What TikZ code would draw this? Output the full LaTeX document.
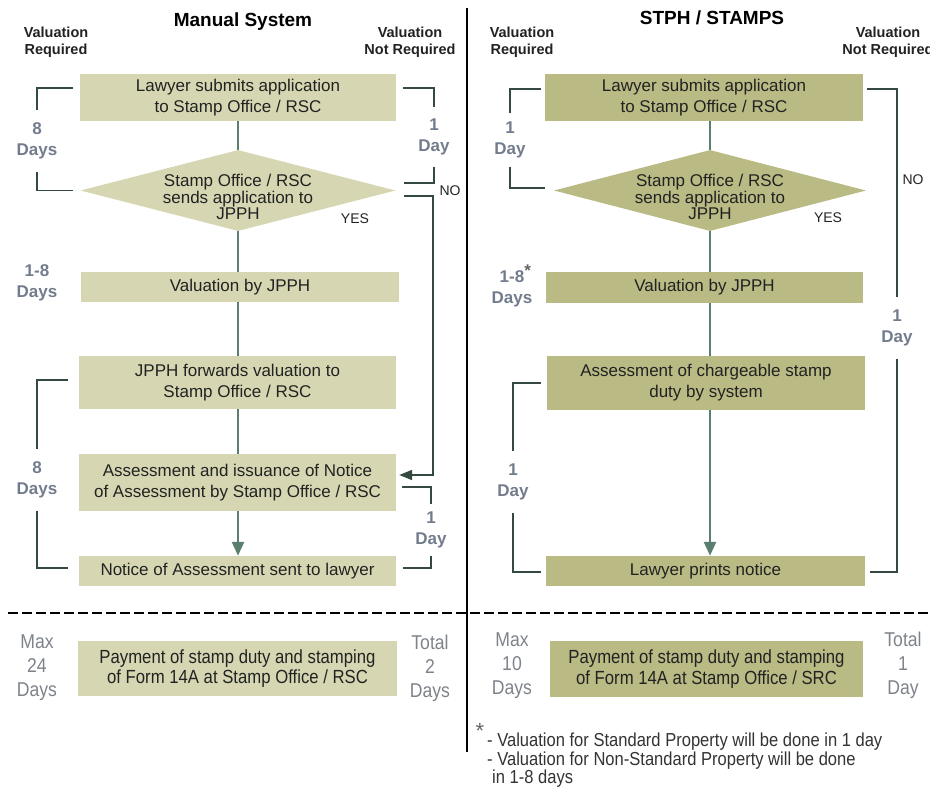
\documentclass[tikz,border=0pt]{standalone}
\usepackage{fontspec}
\setmainfont{Liberation Sans}
\newfontfamily\narrowfont[FakeStretch=0.88]{Liberation Sans}
\usepackage{xcolor}
\usetikzlibrary{positioning, arrows.meta, shapes.geometric}
\definecolor{manualfill}{HTML}{D6D7B2}
\definecolor{stampsfill}{HTML}{B9BA84}
\definecolor{boxtext}{HTML}{222222}
\definecolor{flowgreen}{HTML}{5B7F6E}
\definecolor{bracketdark}{HTML}{34493F}
\definecolor{daygray}{HTML}{727C8C}
\definecolor{totalgray}{HTML}{7E838A}
\definecolor{stargray}{HTML}{666666}
\definecolor{notetext}{HTML}{333333}

\begin{document}
\begin{tikzpicture}[x=1pt, y=-1pt,
    stepbox/.style={rectangle, fill=#1, inner sep=0pt, text=boxtext, align=center, font=\fontsize{17}{21}\selectfont},
    decide/.style={diamond, fill=#1, inner sep=0pt, minimum width=315pt, minimum height=81pt},
    decidetext/.style={align=center, text=boxtext, inner sep=0pt, font=\fontsize{17}{16.5}\selectfont},
    head/.style={font=\fontsize{19}{22}\selectfont\bfseries},
    colhead/.style={align=center, text=boxtext, font=\fontsize{14.5}{17}\selectfont\bfseries},
    days/.style={align=center, text=daygray, inner xsep=2pt, inner ysep=12pt, font=\fontsize{17}{21.5}\selectfont\bfseries},
    total/.style={align=center, text=totalgray, inner sep=0pt, font=\narrowfont\fontsize{20}{24}\selectfont},
    paytext/.style={font=\narrowfont\fontsize{19}{20.5}\selectfont},
    branch/.style={inner sep=0pt, text=boxtext, font=\fontsize{14}{16}\selectfont},
    flow/.style={draw=flowgreen, line width=2.5pt},
    flowarrow/.style={flow, -{Triangle[length=14pt,width=12pt]}},
    bracket/.style={draw=bracketdark, line width=1.8pt}
]
\useasboundingbox (0,0) rectangle (930,787);

\node[head] (manual) at (243,22) {Manual System};
\node[head] (stamps) at (712,18) {STPH / STAMPS};
\node[colhead] (reqL) at (56,42) {Valuation\\Required};
\node[colhead] (notreqL) at (410,42) {Valuation\\Not Required};
\node[colhead] (reqR) at (522,42) {Valuation\\Required};
\node[colhead] (notreqR) at (888,42) {Valuation\\Not Required};

\node[stepbox=manualfill, minimum width=316pt, minimum height=47pt] (submitL) at (238,97.5) {Lawyer submits application\\to Stamp Office / RSC};
\node[decide=manualfill] (sendL) at (238,190.5) {};
\node[decidetext] (sendLtext) at (238,197) {Stamp Office / RSC\\sends application to\\JPPH};
\node[stepbox=manualfill, minimum width=318pt, minimum height=30pt] (valueL) at (240,287) {Valuation by JPPH};
\node[stepbox=manualfill, minimum width=317pt, minimum height=53pt] (forwardL) at (237.5,382.5) {JPPH forwards valuation to\\Stamp Office / RSC};
\node[stepbox=manualfill, minimum width=317pt, minimum height=57pt] (assessL) at (237.5,482.5) {Assessment and issuance of Notice\\of Assessment by Stamp Office / RSC};
\node[stepbox=manualfill, minimum width=317pt, minimum height=30pt] (noticeL) at (237.5,571) {Notice of Assessment sent to lawyer};

\node[stepbox=stampsfill, minimum width=318pt, minimum height=47pt] (submitR) at (704,97.5) {Lawyer submits application\\to Stamp Office / RSC};
\node[decide=stampsfill, minimum width=312pt] (sendR) at (710,190.5) {};
\node[decidetext] (sendRtext) at (710,197) {Stamp Office / RSC\\sends application to\\JPPH};
\node[stepbox=stampsfill, minimum width=317pt, minimum height=31pt] (valueR) at (704.5,287.5) {Valuation by JPPH};
\node[stepbox=stampsfill, minimum width=318pt, minimum height=54pt] (chargeR) at (706,383) {Assessment of chargeable stamp\\duty by system};
\node[stepbox=stampsfill, minimum width=319pt, minimum height=30pt] (printR) at (705.5,571) {Lawyer prints notice};

\draw[flow] (submitL.south -| sendL.north) -- (sendL.north);
\draw[flow] (sendL.south) -- (sendL.south |- valueL.north);
\draw[flow] (sendL.south |- valueL.south) -- (sendL.south |- forwardL.north);
\draw[flow] (sendL.south |- forwardL.south) -- (sendL.south |- assessL.north);
\draw[flowarrow] (sendL.south |- assessL.south) -- (sendL.south |- noticeL.north);

\draw[flow] (submitR.south -| sendR.north) -- (sendR.north);
\draw[flow] (sendR.south) -- (sendR.south |- valueR.north);
\draw[flow] (sendR.south |- valueR.south) -- (sendR.south |- chargeR.north);
\draw[flowarrow] (sendR.south |- chargeR.south) -- (sendR.south |- printR.north);

\node[branch] (yesL) at (355,219) {YES};
\node[branch] (noL) at (450,191) {NO};
\node[branch] (yesR) at (828,218) {YES};
\node[branch] (noR) at (913,180) {NO};
\coordinate (nobend) at (433,196);
\draw[bracket, -{Triangle[length=13pt,width=10pt]}] ([shift={(8,5.5)}]sendL.east) -- (nobend) |- ([shift={(3,-7.5)}]assessL.east);

\node[days] (eightL) at (37,141) {8\\Days};
\draw[bracket] ([shift={(-7,-9.5)}]submitL.west) -| (eightL.north);
\draw[bracket] (eightL.south) |- ([shift={(-7,0)}]sendL.west);
\node[days, inner ysep=11pt] (oneL) at (434,137) {1\\Day};
\draw[bracket] ([shift={(7,-9.5)}]submitL.east) -| (oneL.north);
\draw[bracket] (oneL.south) |- ([shift={(8,-7.5)}]sendL.east);
\node[days] (rangeL) at (37,283) {1-8\\Days};
\node[days] (eightL2) at (37,480) {8\\Days};
\draw[bracket] ([shift={(-11,-2.5)}]forwardL.west) -| (eightL2.north);
\draw[bracket] (eightL2.south) |- ([shift={(-11,-3)}]noticeL.west);
\node[days, inner ysep=7pt] (oneL2) at (431,530) {1\\Day};
\draw[bracket] ([shift={(6,4.5)}]assessL.east) -| (oneL2.north);
\draw[bracket] (oneL2.south) |- ([shift={(7,-3)}]noticeL.east);

\node[days, inner ysep=8pt] (oneR) at (510,140) {1\\Day};
\draw[bracket] ([shift={(-4,-8.5)}]submitR.west) -| (oneR.north);
\draw[bracket] (oneR.south) |- ([shift={(-9,-2.5)}]sendR.west);
\node[days] (oneR2) at (897,328) {1\\Day};
\draw[bracket] ([shift={(4,-8.5)}]submitR.east) -| (oneR2.north);
\draw[bracket] (oneR2.south) |- ([shift={(5,1)}]printR.east);
\node[days] (rangeR) at (512,286) {1-8\rlap{\raisebox{6pt}{\textcolor{stargray}{*}}}\\Days};
\node[days] (oneR3) at (513,482) {1\\Day};
\draw[bracket] ([shift={(-6,0)}]chargeR.west) -| (oneR3.north);
\draw[bracket] (oneR3.south) |- ([shift={(-5,1)}]printR.west);

\coordinate (divtop) at (467,8);
\coordinate (divbot) at (467,752);
\draw[line width=2.6pt] (divtop) -- (divbot);
\coordinate (dashstart) at (8,613);
\coordinate (dashend) at (930,613);
\draw[line width=2.6pt, dash pattern=on 10pt off 4pt] (dashstart) -- (dashend);

\node[total] (maxL) at (37,668) {Max\\24\\Days};
\node[stepbox=manualfill, paytext, minimum width=319pt, minimum height=55pt] (payL) at (237.5,668.5) {Payment of stamp duty and stamping\\of Form 14A at Stamp Office / RSC};
\node[total] (totalL) at (430,668) {Total\\2\\Days};
\node[total] (maxR) at (512,666) {Max\\10\\Days};
\node[stepbox=stampsfill, paytext, minimum width=313pt, minimum height=56pt] (payR) at (706.5,669) {Payment of stamp duty and stamping\\of Form 14A at Stamp Office / SRC};
\node[total] (totalR) at (903,665) {Total\\1\\Day};

\node[inner sep=0pt, text=stargray, font=\fontsize{22}{22}\selectfont] (star) at (480,731) {*};
\node[anchor=north west, align=left, inner sep=0pt, text=notetext, font=\narrowfont\fontsize{18.8}{18.5}\selectfont] (note) at (487,733) {- Valuation for Standard Property will be done in 1 day\\- Valuation for Non-Standard Property will be done\\\hspace*{5pt}in 1-8 days};
\end{tikzpicture}
\end{document}
